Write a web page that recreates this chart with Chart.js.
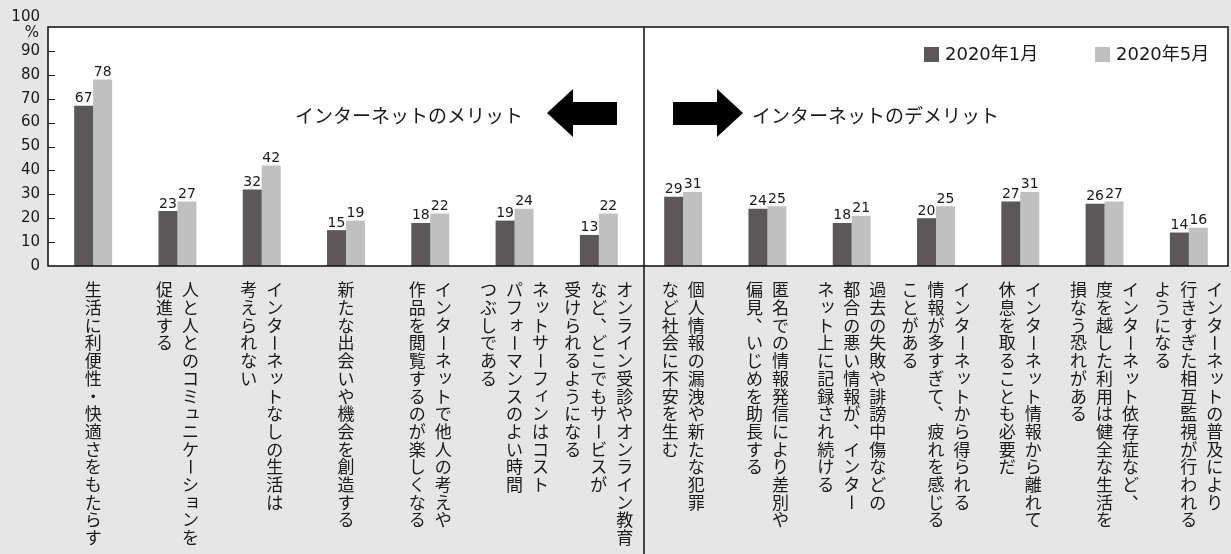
<!DOCTYPE html>
<html lang="ja">
<head>
    <meta charset="UTF-8">
    <title>インターネットのメリット・デメリット</title>
    <script src="https://cdn.jsdelivr.net/npm/chart.js"></script>
    <style>
        body{margin:0;background:#e6e6e6;}
        #wrap{width:1231px;height:554px;}
    </style>
</head>
<body>
    <div id="wrap"><canvas id="netChart" width="1231" height="554"></canvas></div>
<script>
    const categories=[
        ["生活に利便性・快適さをもたらす"],
        ["人と人とのコミュニケーションを","促進する"],
        ["インターネットなしの生活は","考えられない"],
        ["新たな出会いや機会を創造する"],
        ["インターネットで他人の考えや","作品を閲覧するのが楽しくなる"],
        ["ネットサーフィンはコスト","パフォーマンスのよい時間","つぶしである"],
        ["オンライン受診やオンライン教育","など、どこでもサービスが","受けられるようになる"],
        ["個人情報の漏洩や新たな犯罪","など社会に不安を生む"],
        ["匿名での情報発信により差別や","偏見、いじめを助長する"],
        ["過去の失敗や誹謗中傷などの","都合の悪い情報が、インター","ネット上に記録され続ける"],
        ["インターネットから得られる","情報が多すぎて、疲れを感じる","ことがある"],
        ["インターネット情報から離れて","休息を取ることも必要だ"],
        ["インターネット依存症など、","度を越した利用は健全な生活を","損なう恐れがある"],
        ["インターネットの普及により","行きすぎた相互監視が行われる","ようになる"]
    ]
    const jan2020=[67,23,32,15,18,19,13,29,24,18,20,27,26,14]
    const may2020=[78,27,42,19,22,24,22,31,25,21,25,31,27,16]
    const seriesNames=["2020年1月","2020年5月"]
    const seriesColors=["#5b5859","#bfc0bf"]
    const yMax=100
    const yStep=10
    const unitLabel="%"
    const meritText="インターネットのメリット"
    const demeritText="インターネットのデメリット"
    const meritCount=7

    const smallKana="ァィゥェォッャュョヮぁぃぅぇぉっゃゅょゎ"

    function draw_vertical(ctx,text,cx,top,size,pitch){
        let y=top
        for(const ch of text){
            const cy=y+pitch/2
            ctx.save()
            ctx.translate(cx,cy)
            if(ch==="ー"){
                ctx.rotate(Math.PI/2)
                ctx.fillText(ch,0,0)
            }else if(ch==="、"||ch==="。"){
                ctx.fillText(ch,size*0.58,-size*0.58)
            }else if(smallKana.includes(ch)){
                ctx.fillText(ch,size*0.12,-size*0.12)
            }else{
                ctx.fillText(ch,0,0)
            }
            ctx.restore()
            y+=pitch
        }
    }

    const framePlugin={
        id:"frame",
        beforeDraw(chart){
            const {ctx,chartArea:a}=chart
            ctx.save()
            ctx.fillStyle="#ffffff"
            ctx.fillRect(a.left-3,a.top,a.right-a.left,a.bottom-a.top)
            ctx.restore()
        },
        afterDatasetsDraw(chart){
            const {ctx,chartArea:a}=chart
            const xs=chart.scales.x
            const ys=chart.scales.y
            const L=a.left-3,R=a.right-3
            ctx.save()

            // frame
            ctx.strokeStyle="#1a1a1a"
            ctx.lineWidth=1.6
            ctx.strokeRect(L,a.top,R-L,a.bottom-a.top)

            // inward y ticks
            ctx.lineWidth=1.2
            ctx.beginPath()
            for(let v=yStep;v<yMax;v+=yStep){
                const y=Math.round(ys.getPixelForValue(v))+0.5
                ctx.moveTo(L,y)
                ctx.lineTo(L+7,y)
            }
            ctx.stroke()

            // 100 and %
            ctx.fillStyle="#1a1a1a"
            ctx.font="15px 'DejaVu Sans'"
            ctx.textAlign="right"
            ctx.textBaseline="middle"
            const topY=ys.getPixelForValue(yMax)
            ctx.fillText(String(yMax),40,topY-10)
            ctx.fillText(unitLabel,39,topY+6)

            // divider
            const D=(xs.getPixelForValue(meritCount-1)+xs.getPixelForValue(meritCount))/2+3
            ctx.lineWidth=1.6
            ctx.beginPath()
            ctx.moveTo(D,a.top)
            ctx.lineTo(D,chart.height)
            ctx.stroke()

            // value labels
            ctx.font="14px 'DejaVu Sans'"
            ctx.textAlign="center"
            ctx.textBaseline="alphabetic"
            chart.data.datasets.forEach((ds,i)=>{
                chart.getDatasetMeta(i).data.forEach((bar,j)=>{
                    ctx.fillText(ds.data[j],bar.x,bar.y-3.5)
                })
            })

            // arrows
            ctx.fillStyle="#000"
            ctx.beginPath()
            ctx.moveTo(D-97,113)
            ctx.lineTo(D-71,89)
            ctx.lineTo(D-71,102)
            ctx.lineTo(D-27,102)
            ctx.lineTo(D-27,125)
            ctx.lineTo(D-71,125)
            ctx.lineTo(D-71,137)
            ctx.closePath()
            ctx.fill()
            ctx.beginPath()
            ctx.moveTo(D+99,113)
            ctx.lineTo(D+73,89)
            ctx.lineTo(D+73,102)
            ctx.lineTo(D+29,102)
            ctx.lineTo(D+29,125)
            ctx.lineTo(D+73,125)
            ctx.lineTo(D+73,137)
            ctx.closePath()
            ctx.fill()

            ctx.fillStyle="#1a1a1a"
            ctx.font="19px 'Noto Sans CJK JP'"
            ctx.textBaseline="middle"
            ctx.textAlign="right"
            ctx.fillText(meritText,D-121,116)
            ctx.textAlign="left"
            ctx.fillText(demeritText,D+108,116)

            // legend
            const legendX=[924,1095]
            ctx.font="18px 'DejaVu Sans', 'Noto Sans CJK JP'"
            chart.data.datasets.forEach((ds,i)=>{
                ctx.fillStyle=ds.backgroundColor
                ctx.fillRect(legendX[i],47,15,15)
                ctx.fillStyle="#1a1a1a"
                ctx.fillText(ds.label,legendX[i]+21,55)
            })

            // vertical category labels
            ctx.font="17px 'Noto Sans CJK JP'"
            ctx.textAlign="center"
            ctx.textBaseline="middle"
            const pitch=26
            chart.data.labels.forEach((lines,j)=>{
                const cx=xs.getPixelForValue(j)
                const n=lines.length
                lines.forEach((line,k)=>{
                    draw_vertical(ctx,line,cx+((n-1)/2-k)*pitch,281,17,17.7)
                })
            })
            ctx.restore()
        }
    }

    const ctx=document.getElementById("netChart").getContext("2d")
    new Chart(ctx,{
        type:"bar",
        data:{
            labels:categories,
            datasets:[
                {label:seriesNames[0],data:jan2020,backgroundColor:seriesColors[0]},
                {label:seriesNames[1],data:may2020,backgroundColor:seriesColors[1]}
            ]
        },
        options:{
            responsive:false,
            animation:false,
            layout:{padding:{top:27,right:0,bottom:288,left:0}},
            datasets:{bar:{categoryPercentage:0.45,barPercentage:1}},
            plugins:{legend:{display:false},tooltip:{enabled:false}},
            scales:{
                x:{
                    ticks:{display:false},
                    grid:{display:false,drawTicks:false},
                    border:{display:false},
                    afterFit:s=>{s.height=0}
                },
                y:{
                    min:0,
                    max:yMax,
                    ticks:{
                        stepSize:yStep,
                        padding:11,
                        color:"#1a1a1a",
                        font:{family:"'DejaVu Sans'",size:15},
                        callback:v=>v===yMax?"":v
                    },
                    grid:{display:false,drawTicks:false},
                    border:{display:false},
                    afterFit:s=>{s.width=51}
                }
            }
        },
        plugins:[framePlugin]
    })
</script>
</body>
</html>
